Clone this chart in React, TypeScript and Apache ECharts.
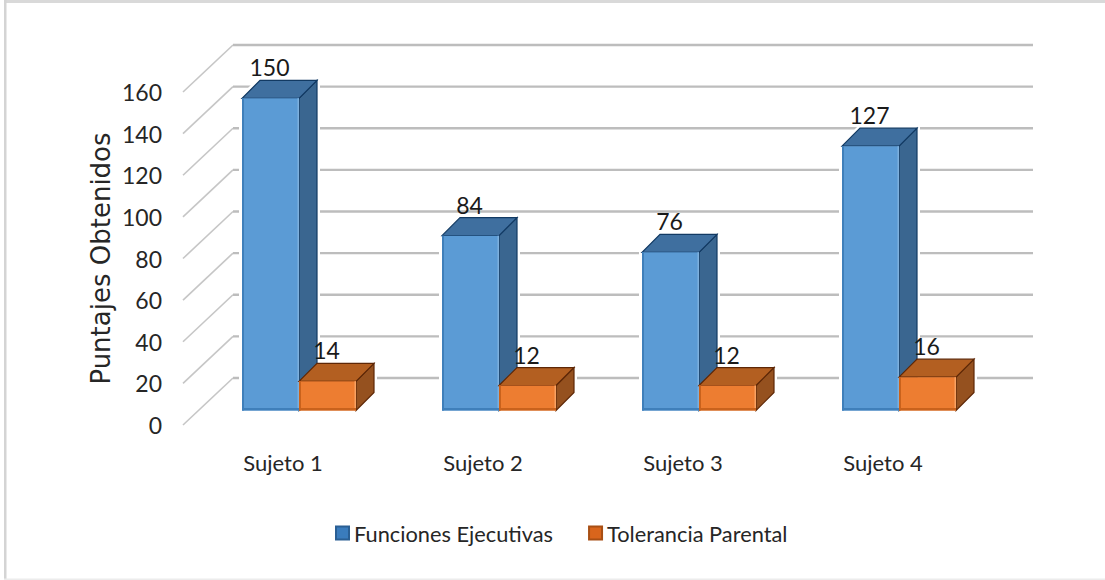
import React, { useEffect, useRef } from "react";
import * as echarts from "echarts";

const categories = ["Sujeto 1", "Sujeto 2", "Sujeto 3", "Sujeto 4"];
const funciones = [150, 84, 76, 127];
const tolerancia = [14, 12, 12, 16];
const ticks = [0, 20, 40, 60, 80, 100, 120, 140, 160];

const WALL_DX = 50;
const WALL_DY = 47;
const DEPTH = 18;
const FLOOR_UP = 14.5;
const BAR_W = 57;
const NARROW = "Lato, 'Liberation Sans', sans-serif";
const TEXT = "#262626";

type Palette = { front: string; frontEdge: string; light: string; top: string; side: string; dark: string };
const bluePal: Palette = { front: "#5b9bd5", frontEdge: "#3f7fba", light: "#7db0de", top: "#3f6f9f", side: "#3a6690", dark: "#123a63" };
const orangePal: Palette = { front: "#ed7d31", frontEdge: "#c9621c", light: "#f9a262", top: "#b35f21", side: "#95511f", dark: "#5e2706" };

function geom(api: any, xShift: number) {
  const c = api.coord([api.value(0), api.value(1)]);
  const b = api.coord([api.value(0), 0]);
  const x0 = c[0] + xShift;
  const x1 = x0 + BAR_W;
  const yT = c[1] - FLOOR_UP;
  const yB = b[1] - FLOOR_UP;
  return { x0, x1, yT, yB };
}

const haloItem = (xShift: number) => (_: any, api: any) => {
  const { x0, x1, yT, yB } = geom(api, xShift);
  return {
    type: "polygon",
    shape: {
      points: [
        [x0, yB], [x0, yT], [x0 + DEPTH, yT - DEPTH], [x1 + DEPTH, yT - DEPTH],
        [x1 + DEPTH, yB - DEPTH], [x1, yB],
      ],
    },
    style: { fill: "#fff", stroke: "#fff", lineWidth: 6 },
  };
};

const barItem = (xShift: number, p: Palette) => (_: any, api: any) => {
  const { x0, x1, yT, yB } = geom(api, xShift);
  const v = api.value(1);
  return {
    type: "group",
    children: [
      {
        type: "polygon",
        shape: { points: [[x1, yT], [x1 + DEPTH, yT - DEPTH], [x1 + DEPTH, yB - DEPTH], [x1, yB]] },
        style: { fill: p.side, stroke: p.dark, lineWidth: 1.2 },
      },
      {
        type: "polygon",
        shape: { points: [[x0, yT], [x0 + DEPTH, yT - DEPTH], [x1 + DEPTH, yT - DEPTH], [x1, yT]] },
        style: { fill: p.top, stroke: p.dark, lineWidth: 1.2 },
      },
      {
        type: "rect",
        shape: { x: x0, y: yT, width: BAR_W, height: yB - yT },
        style: { fill: p.front },
      },
      {
        type: "rect",
        shape: { x: x0, y: yT, width: 2, height: yB - yT },
        style: { fill: p.frontEdge },
      },
      {
        type: "rect",
        shape: { x: x1 - 1.5, y: yT, width: 1.5, height: yB - yT },
        style: { fill: p.light },
      },
      {
        type: "rect",
        shape: { x: x0, y: yB - 2.5, width: BAR_W, height: 2.5 },
        style: { fill: p.frontEdge },
      },
      {
        type: "text",
        style: {
          text: String(v),
          x: (x0 + x1) / 2 - 1,
          y: yT - 31,
          align: "center",
          verticalAlign: "middle",
          fontFamily: NARROW,
          fontSize: 23,
          fill: "#1a1a1a",
        },
      },
    ],
  };
};

const wallItem = (params: any, api: any) => {
  const cs = params.coordSys;
  const y = api.coord([0, api.value(1)])[1];
  return {
    type: "group",
    children: [
      {
        type: "line",
        shape: { x1: cs.x, y1: y, x2: cs.x + WALL_DX, y2: y - WALL_DY },
        style: { stroke: "#c6c6c6", lineWidth: 1.6 },
      },
      {
        type: "line",
        shape: { x1: cs.x + WALL_DX, y1: y - WALL_DY, x2: cs.x + WALL_DX + cs.width, y2: y - WALL_DY },
        style: { stroke: "#bdbdbd", lineWidth: 2.4 },
      },
    ],
  };
};

const pairs = (vals: number[]) => vals.map((v, i) => [i, v]);

export default function App() {
  const ref = useRef<HTMLDivElement>(null);
  useEffect(() => {
    document.body.style.margin = "0";
    const chart = echarts.init(ref.current!, null, { renderer: "svg" });
    const common = { type: "custom" as const, coordinateSystem: "cartesian2d", clip: false, silent: true, encode: { x: 0, y: 1 } };
    chart.setOption({
      animation: false,
      backgroundColor: "#fff",
      graphic: [
        { type: "rect", silent: true, shape: { x: 4, y: 0, width: 1101, height: 3 }, style: { fill: "#d9d9d9" } },
        { type: "rect", silent: true, shape: { x: 4, y: 0, width: 2.5, height: 580 }, style: { fill: "#d4d4d4" } },
        { type: "rect", silent: true, shape: { x: 4, y: 578.5, width: 1101, height: 1.5 }, style: { fill: "#ececec" } },
      ],
      grid: { left: 183, top: 92, width: 800, height: 333 },
      legend: {
        left: 330,
        top: 517,
        itemWidth: 13,
        itemHeight: 13,
        itemGap: 35,
        icon: "rect",
        data: ["Funciones Ejecutivas", "Tolerancia Parental"],
        textStyle: { fontFamily: NARROW, fontSize: 21.8, color: TEXT },
      },
      xAxis: {
        type: "category",
        data: categories,
        axisLine: { show: false },
        axisTick: { show: false },
        axisLabel: { fontFamily: NARROW, fontSize: 22, color: TEXT, margin: 26 },
      },
      yAxis: {
        type: "value",
        min: 0,
        max: 160,
        interval: 20,
        name: "Puntajes Obtenidos",
        nameLocation: "middle",
        nameGap: 69,
        nameMoveOverlap: false,
        nameTextStyle: { fontFamily: "'DejaVu Sans', sans-serif", fontSize: 26, color: TEXT },
        axisLine: { show: false },
        axisTick: { show: false },
        splitLine: { show: false },
        axisLabel: { fontFamily: NARROW, fontSize: 23, color: TEXT, margin: 21 },
      },
      series: [
        { ...common, name: "wall", data: ticks.map((t) => [0, t]), renderItem: wallItem },
        { ...common, name: "haloA", data: pairs(funciones), renderItem: haloItem(-41) },
        { ...common, name: "haloB", data: pairs(tolerancia), renderItem: haloItem(16) },
        { ...common, name: "Funciones Ejecutivas", data: pairs(funciones), renderItem: barItem(-41, bluePal), itemStyle: { color: "#3a7cbd", borderColor: "#2a5f94", borderWidth: 1 } },
        { ...common, name: "Tolerancia Parental", data: pairs(tolerancia), renderItem: barItem(16, orangePal), itemStyle: { color: "#d9651c", borderColor: "#a84f14", borderWidth: 1 } },
      ],
    });
    return () => chart.dispose();
  }, []);
  return <div ref={ref} style={{ width: 1105, height: 580 }} />;
}
